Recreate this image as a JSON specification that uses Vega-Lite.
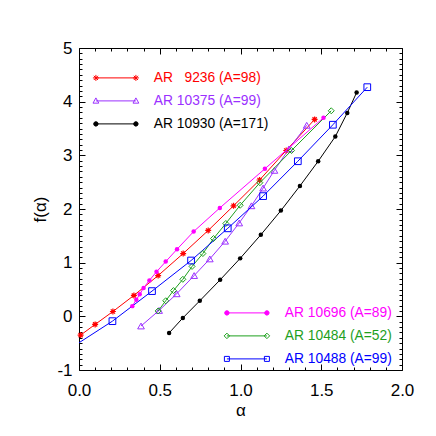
{
  "$schema": "https://vega.github.io/schema/vega-lite/v6.json",
  "width": 323,
  "height": 322,
  "autosize": {"type": "none"},
  "padding": {"left": 79, "top": 48, "right": 34, "bottom": 66},
  "background": "white",
  "config": {
    "font": "Liberation Sans",
    "view": {"stroke": null},
    "axis": {
      "grid": false,
      "domainColor": "black",
      "tickColor": "black",
      "labelColor": "black",
      "titleColor": "black",
      "labelFont": "Liberation Sans",
      "titleFont": "Liberation Sans",
      "labelFontSize": 17,
      "titleFontSize": 17,
      "titleFontWeight": "normal",
      "labelFlush": false,
      "labelOverlap": false
    },
    "legend": {
      "labelFont": "Liberation Sans",
      "labelFontSize": 13.8,
      "labelLimit": 300,
      "padding": 0,
      "rowPadding": 8,
      "symbolSize": 100,
      "symbolStrokeWidth": 1,
      "labelOffset": 31
    }
  },
  "datasets": {
    "d": [
      {"s": "AR \u20079236 (A=98)", "x": 0.01, "y": -0.35},
      {"s": "AR \u20079236 (A=98)", "x": 0.10, "y": -0.15},
      {"s": "AR \u20079236 (A=98)", "x": 0.21, "y": 0.09},
      {"s": "AR \u20079236 (A=98)", "x": 0.34, "y": 0.39},
      {"s": "AR \u20079236 (A=98)", "x": 0.49, "y": 0.76},
      {"s": "AR \u20079236 (A=98)", "x": 0.645, "y": 1.17},
      {"s": "AR \u20079236 (A=98)", "x": 0.80, "y": 1.60},
      {"s": "AR \u20079236 (A=98)", "x": 0.957, "y": 2.06},
      {"s": "AR \u20079236 (A=98)", "x": 1.118, "y": 2.54},
      {"s": "AR \u20079236 (A=98)", "x": 1.283, "y": 3.09},
      {"s": "AR \u20079236 (A=98)", "x": 1.459, "y": 3.67},
      {"s": "AR 10375 (A=99)", "x": 0.384, "y": -0.18},
      {"s": "AR 10375 (A=99)", "x": 0.496, "y": 0.11},
      {"s": "AR 10375 (A=99)", "x": 0.605, "y": 0.42},
      {"s": "AR 10375 (A=99)", "x": 0.713, "y": 0.76},
      {"s": "AR 10375 (A=99)", "x": 0.81, "y": 1.07},
      {"s": "AR 10375 (A=99)", "x": 0.905, "y": 1.40},
      {"s": "AR 10375 (A=99)", "x": 0.992, "y": 1.74},
      {"s": "AR 10375 (A=99)", "x": 1.068, "y": 2.06},
      {"s": "AR 10375 (A=99)", "x": 1.14, "y": 2.39},
      {"s": "AR 10375 (A=99)", "x": 1.21, "y": 2.72},
      {"s": "AR 10375 (A=99)", "x": 1.30, "y": 3.12},
      {"s": "AR 10375 (A=99)", "x": 1.41, "y": 3.56},
      {"s": "AR 10930 (A=171)", "x": 0.558, "y": -0.31},
      {"s": "AR 10930 (A=171)", "x": 0.643, "y": -0.03},
      {"s": "AR 10930 (A=171)", "x": 0.748, "y": 0.29},
      {"s": "AR 10930 (A=171)", "x": 0.874, "y": 0.68},
      {"s": "AR 10930 (A=171)", "x": 0.998, "y": 1.08},
      {"s": "AR 10930 (A=171)", "x": 1.126, "y": 1.52},
      {"s": "AR 10930 (A=171)", "x": 1.25, "y": 1.97},
      {"s": "AR 10930 (A=171)", "x": 1.368, "y": 2.43},
      {"s": "AR 10930 (A=171)", "x": 1.481, "y": 2.89},
      {"s": "AR 10930 (A=171)", "x": 1.587, "y": 3.35},
      {"s": "AR 10930 (A=171)", "x": 1.661, "y": 3.79},
      {"s": "AR 10930 (A=171)", "x": 1.719, "y": 4.17},
      {"s": "AR 10696 (A=89)", "x": 0.33, "y": 0.19},
      {"s": "AR 10696 (A=89)", "x": 0.355, "y": 0.31},
      {"s": "AR 10696 (A=89)", "x": 0.376, "y": 0.41},
      {"s": "AR 10696 (A=89)", "x": 0.40, "y": 0.53},
      {"s": "AR 10696 (A=89)", "x": 0.436, "y": 0.67},
      {"s": "AR 10696 (A=89)", "x": 0.48, "y": 0.83},
      {"s": "AR 10696 (A=89)", "x": 0.537, "y": 1.02},
      {"s": "AR 10696 (A=89)", "x": 0.607, "y": 1.25},
      {"s": "AR 10696 (A=89)", "x": 0.71, "y": 1.58},
      {"s": "AR 10696 (A=89)", "x": 0.872, "y": 2.02},
      {"s": "AR 10696 (A=89)", "x": 1.151, "y": 2.75},
      {"s": "AR 10696 (A=89)", "x": 1.514, "y": 3.70},
      {"s": "AR 10484 (A=52)", "x": 0.49, "y": 0.10},
      {"s": "AR 10484 (A=52)", "x": 0.537, "y": 0.29},
      {"s": "AR 10484 (A=52)", "x": 0.585, "y": 0.48},
      {"s": "AR 10484 (A=52)", "x": 0.643, "y": 0.69},
      {"s": "AR 10484 (A=52)", "x": 0.70, "y": 0.93},
      {"s": "AR 10484 (A=52)", "x": 0.767, "y": 1.17},
      {"s": "AR 10484 (A=52)", "x": 0.833, "y": 1.45},
      {"s": "AR 10484 (A=52)", "x": 0.909, "y": 1.73},
      {"s": "AR 10484 (A=52)", "x": 0.998, "y": 2.07},
      {"s": "AR 10484 (A=52)", "x": 1.12, "y": 2.49},
      {"s": "AR 10484 (A=52)", "x": 1.316, "y": 3.09},
      {"s": "AR 10484 (A=52)", "x": 1.562, "y": 3.83},
      {"s": "AR 10488 (A=99)", "x": -0.04, "y": -0.57},
      {"s": "AR 10488 (A=99)", "x": 0.207, "y": -0.09},
      {"s": "AR 10488 (A=99)", "x": 0.452, "y": 0.47},
      {"s": "AR 10488 (A=99)", "x": 0.694, "y": 1.04},
      {"s": "AR 10488 (A=99)", "x": 0.921, "y": 1.64},
      {"s": "AR 10488 (A=99)", "x": 1.14, "y": 2.24},
      {"s": "AR 10488 (A=99)", "x": 1.355, "y": 2.89},
      {"s": "AR 10488 (A=99)", "x": 1.572, "y": 3.57},
      {"s": "AR 10488 (A=99)", "x": 1.785, "y": 4.27}
    ]
  },
  "data": {"name": "d"},
  "layer": [
    {
      "transform": [{"filter": {"field": "s", "oneOf": ["AR \u20079236 (A=98)", "AR 10375 (A=99)", "AR 10930 (A=171)"]}}],
      "encoding": {
        "x": {
          "field": "x", "type": "quantitative",
          "scale": {"domain": [0, 2], "nice": false, "zero": false},
          "axis": {
            "orient": "bottom", "title": "α",
            "values": [0, 0.1, 0.2, 0.3, 0.4, 0.5, 0.6, 0.7, 0.8, 0.9, 1, 1.1, 1.2, 1.3, 1.4, 1.5, 1.6, 1.7, 1.8, 1.9, 2],
            "labelExpr": "abs(datum.value*2 - round(datum.value*2)) < 0.001 ? format(datum.value, '.1f') : ''",
            "tickSize": {"condition": {"test": "abs(datum.value*2 - round(datum.value*2)) < 0.001", "value": -6}, "value": -3},
            "labelPadding": 18,
            "titlePadding": 1
          }
        },
        "y": {
          "field": "y", "type": "quantitative",
          "scale": {"domain": [-1, 5], "nice": false, "zero": false},
          "axis": {
            "orient": "left", "title": "f(α)",
            "values": [-1, -0.9, -0.8, -0.7, -0.6, -0.5, -0.4, -0.3, -0.2, -0.1, 0, 0.1, 0.2, 0.3, 0.4, 0.5, 0.6, 0.7, 0.8, 0.9, 1, 1.1, 1.2, 1.3, 1.4, 1.5, 1.6, 1.7, 1.8, 1.9, 2, 2.1, 2.2, 2.3, 2.4, 2.5, 2.6, 2.7, 2.8, 2.9, 3, 3.1, 3.2, 3.3, 3.4, 3.5, 3.6, 3.7, 3.8, 3.9, 4, 4.1, 4.2, 4.3, 4.4, 4.5, 4.6, 4.7, 4.8, 4.9, 5],
            "labelExpr": "abs(datum.value - round(datum.value)) < 0.001 ? '' + round(datum.value) : ''",
            "tickSize": {"condition": {"test": "abs(datum.value - round(datum.value)) < 0.001", "value": -6}, "value": -3},
            "labelPadding": 13,
            "titlePadding": 7
          }
        },
        "color": {
          "field": "s", "type": "nominal",
          "scale": {"domain": ["AR \u20079236 (A=98)", "AR 10375 (A=99)", "AR 10930 (A=171)"], "range": ["#ff0000", "#9b30ff", "#000000"]},
          "legend": {
            "title": null,
            "orient": "none",
            "legendX": 30,
            "legendY": 23,
            "encode": {
              "labels": {"update": {"fill": {"signal": "['#ff0000','#9b30ff','#000000'][datum.index]"}}},
              "symbols": {"update": {
                "shape": {"signal": "['M-4,0H4M-4.6,0H-3.4M-4,-0.6V0.6M-4.42,-0.42L-3.58,0.42M-4.42,0.42L-3.58,-0.42M3.4,0H4.6M4,-0.6V0.6M3.58,-0.42L4.42,0.42M3.58,0.42L4.42,-0.42','M-4,0H4M-4,-0.6L-3.42,0.45L-4.58,0.45ZM4,-0.6L4.58,0.45L3.42,0.45Z','M-4,0H4M-3.55,0L-3.68,0.32L-4,0.45L-4.32,0.32L-4.45,0L-4.32,-0.32L-4,-0.45L-3.68,-0.32ZM4.45,0L4.32,0.32L4,0.45L3.68,0.32L3.55,0L3.68,-0.32L4,-0.45L4.32,-0.32Z'][datum.index]"},
                "stroke": {"signal": "['#ff0000','#9b30ff','#000000'][datum.index]"},
                "fill": {"signal": "['#ff0000','#9b30ff','#000000'][datum.index]"},
                "fillOpacity": {"signal": "[0,0,1][datum.index]"},
                "strokeWidth": {"value": 1},
                "opacity": {"value": 1}
              }}
            }
          }
        }
      },
      "layer": [
        {"mark": {"type": "line", "strokeWidth": 1}},
        {"transform": [{"filter": "datum.s === 'AR \u20079236 (A=98)'"}], "mark": {"type": "point", "shape": "M-1,0H1M0,-1V1M-0.7,-0.7L0.7,0.7M-0.7,0.7L0.7,-0.7", "size": 36, "filled": false, "strokeWidth": 1.2, "opacity": 1}},
        {"transform": [{"filter": "datum.s === 'AR 10375 (A=99)'"}], "mark": {"type": "point", "shape": "triangle-up", "size": 45, "filled": false, "strokeWidth": 1, "opacity": 1}},
        {"transform": [{"filter": "datum.s === 'AR 10930 (A=171)'"}], "mark": {"type": "point", "shape": "circle", "size": 20, "filled": true, "opacity": 1}}
      ]
    },
    {
      "transform": [{"filter": {"field": "s", "oneOf": ["AR 10696 (A=89)", "AR 10484 (A=52)", "AR 10488 (A=99)"]}}],
      "encoding": {
        "x": {
          "field": "x", "type": "quantitative",
          "scale": {"domain": [0, 2], "nice": false, "zero": false},
          "axis": {
            "orient": "top", "title": null, "labels": false,
            "values": [0, 0.1, 0.2, 0.3, 0.4, 0.5, 0.6, 0.7, 0.8, 0.9, 1, 1.1, 1.2, 1.3, 1.4, 1.5, 1.6, 1.7, 1.8, 1.9, 2],
            "tickSize": {"condition": {"test": "abs(datum.value*2 - round(datum.value*2)) < 0.001", "value": -6}, "value": -3}
          }
        },
        "y": {
          "field": "y", "type": "quantitative",
          "scale": {"domain": [-1, 5], "nice": false, "zero": false},
          "axis": {
            "orient": "right", "title": null, "labels": false,
            "values": [-1, -0.9, -0.8, -0.7, -0.6, -0.5, -0.4, -0.3, -0.2, -0.1, 0, 0.1, 0.2, 0.3, 0.4, 0.5, 0.6, 0.7, 0.8, 0.9, 1, 1.1, 1.2, 1.3, 1.4, 1.5, 1.6, 1.7, 1.8, 1.9, 2, 2.1, 2.2, 2.3, 2.4, 2.5, 2.6, 2.7, 2.8, 2.9, 3, 3.1, 3.2, 3.3, 3.4, 3.5, 3.6, 3.7, 3.8, 3.9, 4, 4.1, 4.2, 4.3, 4.4, 4.5, 4.6, 4.7, 4.8, 4.9, 5],
            "tickSize": {"condition": {"test": "abs(datum.value - round(datum.value)) < 0.001", "value": -6}, "value": -3}
          }
        },
        "color": {
          "field": "s", "type": "nominal",
          "scale": {"domain": ["AR 10696 (A=89)", "AR 10484 (A=52)", "AR 10488 (A=99)"], "range": ["#ff00ff", "#1ea01e", "#0000ff"]},
          "legend": {
            "title": null,
            "orient": "none",
            "legendX": 161,
            "legendY": 258,
            "encode": {
              "labels": {"update": {"fill": {"signal": "['#ff00ff','#1ea01e','#0000ff'][datum.index]"}}},
              "symbols": {"update": {
                "shape": {"signal": "['M-4,0H4M-3.55,0L-3.68,0.32L-4,0.45L-4.32,0.32L-4.45,0L-4.32,-0.32L-4,-0.45L-3.68,-0.32ZM4.45,0L4.32,0.32L4,0.45L3.68,0.32L3.55,0L3.68,-0.32L4,-0.45L4.32,-0.32Z','M-4,0H4M-4,-0.55L-3.45,0L-4,0.55L-4.55,0ZM4,-0.55L4.55,0L4,0.55L3.45,0Z','M-4,0H4M-4.5,-0.5H-3.5V0.5H-4.5ZM3.5,-0.5H4.5V0.5H3.5Z'][datum.index]"},
                "stroke": {"signal": "['#ff00ff','#1ea01e','#0000ff'][datum.index]"},
                "fill": {"signal": "['#ff00ff','#1ea01e','#0000ff'][datum.index]"},
                "fillOpacity": {"signal": "[1,0,0][datum.index]"},
                "strokeWidth": {"value": 1},
                "opacity": {"value": 1}
              }}
            }
          }
        }
      },
      "layer": [
        {"mark": {"type": "line", "strokeWidth": 1, "clip": true}},
        {"transform": [{"filter": "datum.s === 'AR 10696 (A=89)'"}], "mark": {"type": "point", "shape": "circle", "size": 20, "filled": true, "opacity": 1}},
        {"transform": [{"filter": "datum.s === 'AR 10484 (A=52)'"}], "mark": {"type": "point", "shape": "diamond", "size": 36, "filled": false, "strokeWidth": 1, "opacity": 1}},
        {"transform": [{"filter": "datum.s === 'AR 10488 (A=99)'"}], "mark": {"type": "point", "shape": "square", "size": 45, "filled": false, "strokeWidth": 1, "opacity": 1, "clip": true}}
      ]
    }
  ],
  "resolve": {
    "scale": {"color": "independent"},
    "axis": {"x": "independent", "y": "independent"},
    "legend": {"color": "independent"}
  }
}
